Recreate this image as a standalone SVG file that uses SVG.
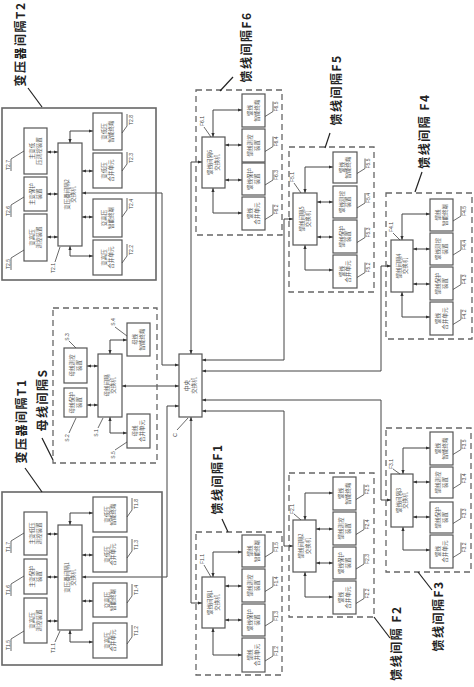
<svg xmlns="http://www.w3.org/2000/svg" width="474" height="687" viewBox="0 0 474 687">
<style>
.b{fill:#fff;stroke:#555;stroke-width:1.2}
.tb{fill:none;stroke:#666;stroke-width:1.6}
.d{fill:none;stroke:#666;stroke-width:1.3;stroke-dasharray:6 4}
.c{fill:none;stroke:#444;stroke-width:1;marker-start:url(#ah);marker-end:url(#ah)}
.l{fill:none;stroke:#444;stroke-width:0.8}
.ld{fill:none;stroke:#222;stroke-width:1.2}
.t{font-family:"Noto Sans CJK SC",sans-serif;font-size:5.5px;fill:#555;text-anchor:middle}
.n{font-family:"Liberation Sans",sans-serif;font-size:5px;fill:#444;text-anchor:middle}
.L{font-family:"Noto Sans CJK SC",sans-serif;font-size:12px;font-weight:bold;fill:#222;letter-spacing:1.5px;text-anchor:middle}
</style>
<defs>
<marker id="ah" viewBox="0 0 10 10" refX="10" refY="5" markerWidth="4" markerHeight="4" markerUnits="userSpaceOnUse" orient="auto-start-reverse"><path d="M0,1L10,5L0,9z" fill="#333"/></marker>
</defs>
<rect width="474" height="687" fill="#fff"/>

<g id="connectors">
<path class="c" d="M179,365H162V193H82"/>
<path class="c" d="M179,386H122"/>
<path class="c" d="M179,406H167V577H82"/>
<path class="c" d="M191,354V162H202"/>
<path class="c" d="M191,417V603H202"/>
<path class="c" d="M202,360H284V219H293"/>
<path class="c" d="M202,371H381V266H391"/>
<path class="c" d="M202,400H381V500H391"/>
<path class="c" d="M202,411H284V546H293"/>
<!-- T2 -->
<path class="c" d="M47,152H58"/><path class="c" d="M47,194H58"/><path class="c" d="M47,237H58"/>
<path class="c" d="M82,171H93"/><path class="c" d="M82,217H93"/>
<path class="c" d="M70,143V131H93"/><path class="c" d="M70,246V256H93"/>
<!-- T1 -->
<path class="c" d="M47,534H58"/><path class="c" d="M47,577H58"/><path class="c" d="M47,621H58"/>
<path class="c" d="M82,555H93"/><path class="c" d="M82,601H93"/>
<path class="c" d="M70,525V513H93"/><path class="c" d="M70,630V642H93"/>
<!-- S -->
<path class="c" d="M87,366H98"/><path class="c" d="M87,405H98"/>
<path class="c" d="M110,354V340H127"/><path class="c" d="M110,417V433H127"/>
<!-- F6 -->
<path class="c" d="M225,145H242"/><path class="c" d="M225,180H242"/>
<path class="c" d="M213,137V110H242"/><path class="c" d="M213,188V213H242"/>
<!-- F5 -->
<path class="c" d="M317,202H333"/><path class="c" d="M317,237H333"/>
<path class="c" d="M305,193V167H333"/><path class="c" d="M305,245V270H333"/>
<!-- F4 -->
<path class="c" d="M413,249H430"/><path class="c" d="M413,284H430"/>
<path class="c" d="M402,240V214H430"/><path class="c" d="M402,292V317H430"/>
<!-- F1 -->
<path class="c" d="M225,586H242"/><path class="c" d="M225,620H242"/>
<path class="c" d="M213,577V552H242"/><path class="c" d="M213,628V655H242"/>
<!-- F2 -->
<path class="c" d="M316,529H333"/><path class="c" d="M316,563H333"/>
<path class="c" d="M305,520V493H333"/><path class="c" d="M305,572V597H333"/>
<!-- F3 -->
<path class="c" d="M413,482H430"/><path class="c" d="M413,517H430"/>
<path class="c" d="M403,474V448H430"/><path class="c" d="M403,527V550H430"/>
</g>

<!-- ===== T2 ===== -->
<g id="bay-T2">
<rect class="tb" x="2" y="108" width="154" height="172"/>
<text class="L" transform="translate(21 44) rotate(-90)" y="4">变压器间隔T2</text>
<path class="ld" d="M28,88L42,107"/>
</g>
<g id="T2.7"><rect class="b" x="24" y="128" width="23" height="46"/><text class="t" transform="translate(35.5 151) rotate(-90)"><tspan x="0" y="-1.4">主变低</tspan><tspan x="0" y="5.2">压测控装置</tspan></text><text class="n" transform="translate(8 165) rotate(-90)" y="1.7">T2.7</text><path class="l" d="M11,171V159L24,151"/></g>
<g id="T2.6"><rect class="b" x="24" y="177" width="23" height="34"/><text class="t" transform="translate(35.5 194) rotate(-90)"><tspan x="0" y="-1.4">主变保护</tspan><tspan x="0" y="5.2">装置</tspan></text><text class="n" transform="translate(8 211) rotate(-90)" y="1.7">T2.6</text><path class="l" d="M11,217V205L24,197"/></g>
<g id="T2.5"><rect class="b" x="24" y="214" width="23" height="47"/><text class="t" transform="translate(35.5 237.5) rotate(-90)"><tspan x="0" y="-1.4">变高压</tspan><tspan x="0" y="5.2">测控装置</tspan></text><text class="n" transform="translate(8 264) rotate(-90)" y="1.7">T2.5</text><path class="l" d="M11,270V258L24,250"/></g>
<g id="T2.1"><rect class="b" x="58" y="143" width="24" height="103"/><text class="t" transform="translate(70 194.5) rotate(-90)"><tspan x="0" y="-1.4">变压器间隔2</tspan><tspan x="0" y="5.2">交换机</tspan></text><text class="n" transform="translate(53 268) rotate(-90)" y="1.7">T2.1</text><path class="l" d="M55,262L60,247"/></g>
<g id="T2.8"><rect class="b" x="93" y="113" width="29" height="37"/><text class="t" transform="translate(107.5 131.5) rotate(-90)"><tspan x="0" y="-1.4">变低压</tspan><tspan x="0" y="5.2">智能终端</tspan></text><text class="n" transform="translate(131 120) rotate(-90)" y="1.7">T2.8</text><path class="l" d="M122,133L127,126V114"/></g>
<g id="T2.3"><rect class="b" x="93" y="153" width="29" height="35"/><text class="t" transform="translate(107.5 170.5) rotate(-90)"><tspan x="0" y="-1.4">变低压</tspan><tspan x="0" y="5.2">合并单元</tspan></text><text class="n" transform="translate(131 158) rotate(-90)" y="1.7">T2.3</text><path class="l" d="M122,171L127,164V152"/></g>
<g id="T2.4"><rect class="b" x="93" y="199" width="29" height="38"/><text class="t" transform="translate(107.5 218) rotate(-90)"><tspan x="0" y="-1.4">变高压</tspan><tspan x="0" y="5.2">智能终端</tspan></text><text class="n" transform="translate(131 204) rotate(-90)" y="1.7">T2.4</text><path class="l" d="M122,217L127,210V198"/></g>
<g id="T2.2"><rect class="b" x="93" y="240" width="29" height="35"/><text class="t" transform="translate(107.5 257.5) rotate(-90)"><tspan x="0" y="-1.4">变高压</tspan><tspan x="0" y="5.2">合并单元</tspan></text><text class="n" transform="translate(131 250) rotate(-90)" y="1.7">T2.2</text><path class="l" d="M122,263L127,256V244"/></g>

<!-- ===== T1 ===== -->
<g id="bay-T1">
<rect class="tb" x="2" y="492" width="160" height="173"/>
<text class="L" transform="translate(22 421) rotate(-90)" y="4">变压器间隔T1</text>
<path class="ld" d="M25,468L42,492"/>
</g>
<g id="T1.7"><rect class="b" x="24" y="512" width="23" height="43"/><text class="t" transform="translate(35.5 533.5) rotate(-90)"><tspan x="0" y="-1.4">主变低压</tspan><tspan x="0" y="5.2">测控装置</tspan></text><text class="n" transform="translate(8 547) rotate(-90)" y="1.7">T1.7</text><path class="l" d="M11,553V541L24,533"/></g>
<g id="T1.6"><rect class="b" x="24" y="559" width="23" height="35"/><text class="t" transform="translate(35.5 576.5) rotate(-90)"><tspan x="0" y="-1.4">主变保护</tspan><tspan x="0" y="5.2">装置</tspan></text><text class="n" transform="translate(8 590) rotate(-90)" y="1.7">T1.6</text><path class="l" d="M11,596V584L24,576"/></g>
<g id="T1.5"><rect class="b" x="24" y="598" width="23" height="45"/><text class="t" transform="translate(35.5 620.5) rotate(-90)"><tspan x="0" y="-1.4">变高压</tspan><tspan x="0" y="5.2">测控装置</tspan></text><text class="n" transform="translate(8 645) rotate(-90)" y="1.7">T1.5</text><path class="l" d="M11,651V639L24,631"/></g>
<g id="T1.1"><rect class="b" x="58" y="525" width="24" height="105"/><text class="t" transform="translate(70 577.5) rotate(-90)"><tspan x="0" y="-1.4">变压器间隔1</tspan><tspan x="0" y="5.2">交换机</tspan></text><text class="n" transform="translate(53 648) rotate(-90)" y="1.7">T1.1</text><path class="l" d="M55,642L60,631"/></g>
<g id="T1.8"><rect class="b" x="93" y="497" width="34" height="35"/><text class="t" transform="translate(110 514.5) rotate(-90)"><tspan x="0" y="-1.4">变低压</tspan><tspan x="0" y="5.2">智能终端</tspan></text><text class="n" transform="translate(136 504) rotate(-90)" y="1.7">T1.8</text><path class="l" d="M127,517L132,510V498"/></g>
<g id="T1.3"><rect class="b" x="93" y="537" width="34" height="35"/><text class="t" transform="translate(110 554.5) rotate(-90)"><tspan x="0" y="-1.4">变低压</tspan><tspan x="0" y="5.2">合并单元</tspan></text><text class="n" transform="translate(136 545) rotate(-90)" y="1.7">T1.3</text><path class="l" d="M127,558L132,551V539"/></g>
<g id="T1.4"><rect class="b" x="93" y="583" width="34" height="34"/><text class="t" transform="translate(110 600) rotate(-90)"><tspan x="0" y="-1.4">变高压</tspan><tspan x="0" y="5.2">智能终端</tspan></text><text class="n" transform="translate(136 590) rotate(-90)" y="1.7">T1.4</text><path class="l" d="M127,603L132,596V584"/></g>
<g id="T1.2"><rect class="b" x="93" y="623" width="34" height="35"/><text class="t" transform="translate(110 640.5) rotate(-90)"><tspan x="0" y="-1.4">变高压</tspan><tspan x="0" y="5.2">合并单元</tspan></text><text class="n" transform="translate(136 631) rotate(-90)" y="1.7">T1.2</text><path class="l" d="M127,644L132,637V625"/></g>

<!-- ===== Bus S ===== -->
<g id="bay-S">
<rect class="d" x="53" y="308" width="104" height="155"/>
<text class="L" transform="translate(43 400) rotate(-90)" y="4">母线间隔S</text>
<path class="ld" d="M42,438L53,460"/>
</g>
<g id="S.1"><rect class="b" x="98" y="354" width="24" height="63"/><text class="t" transform="translate(110 385.5) rotate(-90)"><tspan x="0" y="-1.4">母线间隔</tspan><tspan x="0" y="5.2">交换机</tspan></text><text class="n" transform="translate(96 433) rotate(-90)" y="1.7">S.1</text><path class="l" d="M98,428L103,418"/></g>
<g id="S.3"><rect class="b" x="64" y="348" width="23" height="35"/><text class="t" transform="translate(75.5 365.5) rotate(-90)"><tspan x="0" y="-1.4">母线测控</tspan><tspan x="0" y="5.2">装置</tspan></text><text class="n" transform="translate(67 337) rotate(-90)" y="1.7">S.3</text><path class="l" d="M69,341L76,348"/></g>
<g id="S.2"><rect class="b" x="64" y="388" width="23" height="29"/><text class="t" transform="translate(75.5 402.5) rotate(-90)"><tspan x="0" y="-1.4">母线保护</tspan><tspan x="0" y="5.2">装置</tspan></text><text class="n" transform="translate(67 438) rotate(-90)" y="1.7">S.2</text><path class="l" d="M69,433L76,418"/></g>
<g id="S.4"><rect class="b" x="127" y="323" width="23" height="33"/><text class="t" transform="translate(138.5 339.5) rotate(-90)"><tspan x="0" y="-1.4">母线</tspan><tspan x="0" y="5.2">智能终端</tspan></text><text class="n" transform="translate(113 322) rotate(-90)" y="1.7">S.4</text><path class="l" d="M115,327L127,336"/></g>
<g id="S.5"><rect class="b" x="127" y="414" width="23" height="34"/><text class="t" transform="translate(138.5 431) rotate(-90)"><tspan x="0" y="-1.4">母线</tspan><tspan x="0" y="5.2">合并单元</tspan></text><text class="n" transform="translate(113 455) rotate(-90)" y="1.7">S.5</text><path class="l" d="M115,450L127,442"/></g>

<!-- ===== Central ===== -->
<g id="C"><rect class="b" x="179" y="354" width="23" height="63"/><text class="t" transform="translate(190.5 385.5) rotate(-90)"><tspan x="0" y="-1.4">中央</tspan><tspan x="0" y="5.2">交换机</tspan></text><text class="n" transform="translate(175 435) rotate(-90)" y="1.7" style="font-size:5.5px">C</text><path class="l" d="M177,430L188,418"/></g>

<!-- ===== F6 ===== -->
<g id="bay-F6"><rect class="d" x="196" y="90" width="86" height="145"/><text class="L" transform="translate(247 47) rotate(-90)" y="4">馈线间隔F6</text><path class="ld" d="M233,77L220,91"/></g>
<g id="F6.1"><rect class="b" x="202" y="137" width="23" height="51"/><text class="t" transform="translate(213.5 162.5) rotate(-90)"><tspan x="0" y="-1.4">馈线间隔6</tspan><tspan x="0" y="5.2">交换机</tspan></text><text class="n" transform="translate(202 121) rotate(-90)" y="1.7">F6.1</text><path class="l" d="M204,127L211,137"/></g>
<g id="F6.5"><rect class="b" x="242" y="94" width="23" height="33"/><text class="t" transform="translate(253.5 110.5) rotate(-90)"><tspan x="0" y="-1.4">馈线</tspan><tspan x="0" y="5.2">智能终端</tspan></text><text class="n" transform="translate(276 106.5) rotate(-90)" y="1.7">F6.5</text><path class="l" d="M265,116.5L273,111.5V101.5"/></g>
<g id="F6.4"><rect class="b" x="242" y="129" width="23" height="33"/><text class="t" transform="translate(253.5 145.5) rotate(-90)"><tspan x="0" y="-1.4">馈线测控</tspan><tspan x="0" y="5.2">装置</tspan></text><text class="n" transform="translate(276 141.5) rotate(-90)" y="1.7">F6.4</text><path class="l" d="M265,151.5L273,146.5V136.5"/></g>
<g id="F6.3"><rect class="b" x="242" y="163" width="23" height="32"/><text class="t" transform="translate(253.5 179) rotate(-90)"><tspan x="0" y="-1.4">馈线保护</tspan><tspan x="0" y="5.2">装置</tspan></text><text class="n" transform="translate(276 175) rotate(-90)" y="1.7">F6.3</text><path class="l" d="M265,185L273,180V170"/></g>
<g id="F6.2"><rect class="b" x="242" y="197" width="23" height="33"/><text class="t" transform="translate(253.5 213.5) rotate(-90)"><tspan x="0" y="-1.4">馈线</tspan><tspan x="0" y="5.2">合并单元</tspan></text><text class="n" transform="translate(276 209.5) rotate(-90)" y="1.7">F6.2</text><path class="l" d="M265,219.5L273,214.5V204.5"/></g>

<!-- ===== F5 ===== -->
<g id="bay-F5"><rect class="d" x="289" y="147" width="85" height="145"/><text class="L" transform="translate(337 90) rotate(-90)" y="4">馈线间隔F5</text><path class="ld" d="M330,133L325,148"/></g>
<g id="F5.1"><rect class="b" x="293" y="193" width="24" height="52"/><text class="t" transform="translate(305 219) rotate(-90)"><tspan x="0" y="-1.4">馈线间隔5</tspan><tspan x="0" y="5.2">交换机</tspan></text><text class="n" transform="translate(292 177) rotate(-90)" y="1.7">F5.1</text><path class="l" d="M294,183L301,193"/></g>
<g id="F5.5"><rect class="b" x="333" y="152" width="24" height="31"/><text class="t" transform="translate(345 167.5) rotate(-90)"><tspan x="0" y="-1.4">馈线</tspan><tspan x="0" y="5.2">智能终端</tspan></text><text class="n" transform="translate(368 163.5) rotate(-90)" y="1.7">F5.5</text><path class="l" d="M357,173.5L365,168.5V158.5"/></g>
<g id="F5.4"><rect class="b" x="333" y="186" width="24" height="32"/><text class="t" transform="translate(345 202) rotate(-90)"><tspan x="0" y="-1.4">馈线测控</tspan><tspan x="0" y="5.2">装置</tspan></text><text class="n" transform="translate(368 198) rotate(-90)" y="1.7">F5.4</text><path class="l" d="M357,208L365,203V193"/></g>
<g id="F5.3"><rect class="b" x="333" y="220" width="24" height="33"/><text class="t" transform="translate(345 236.5) rotate(-90)"><tspan x="0" y="-1.4">馈线保护</tspan><tspan x="0" y="5.2">装置</tspan></text><text class="n" transform="translate(368 232.5) rotate(-90)" y="1.7">F5.3</text><path class="l" d="M357,242.5L365,237.5V227.5"/></g>
<g id="F5.2"><rect class="b" x="333" y="255" width="24" height="33"/><text class="t" transform="translate(345 271.5) rotate(-90)"><tspan x="0" y="-1.4">馈线</tspan><tspan x="0" y="5.2">合并单元</tspan></text><text class="n" transform="translate(368 267.5) rotate(-90)" y="1.7">F5.2</text><path class="l" d="M357,277.5L365,272.5V262.5"/></g>

<!-- ===== F4 ===== -->
<g id="bay-F4"><rect class="d" x="386" y="193" width="86" height="146"/><text class="L" transform="translate(425 131) rotate(-90)" y="4">馈线间隔 F4</text><path class="ld" d="M422,172L415,192"/></g>
<g id="F4.1"><rect class="b" x="391" y="240" width="22" height="52"/><text class="t" transform="translate(402 266) rotate(-90)"><tspan x="0" y="-1.4">馈线间隔4</tspan><tspan x="0" y="5.2">交换机</tspan></text><text class="n" transform="translate(391 227) rotate(-90)" y="1.7">F4.1</text><path class="l" d="M393,233L400,240"/></g>
<g id="F4.5"><rect class="b" x="430" y="199" width="23" height="32"/><text class="t" transform="translate(441.5 215) rotate(-90)"><tspan x="0" y="-1.4">馈线</tspan><tspan x="0" y="5.2">智能终端</tspan></text><text class="n" transform="translate(464 211) rotate(-90)" y="1.7">F4.5</text><path class="l" d="M453,221L461,216V206"/></g>
<g id="F4.4"><rect class="b" x="430" y="233" width="23" height="32"/><text class="t" transform="translate(441.5 249) rotate(-90)"><tspan x="0" y="-1.4">馈线测控</tspan><tspan x="0" y="5.2">装置</tspan></text><text class="n" transform="translate(464 245) rotate(-90)" y="1.7">F4.4</text><path class="l" d="M453,255L461,250V240"/></g>
<g id="F4.3"><rect class="b" x="430" y="267" width="23" height="33"/><text class="t" transform="translate(441.5 283.5) rotate(-90)"><tspan x="0" y="-1.4">馈线保护</tspan><tspan x="0" y="5.2">装置</tspan></text><text class="n" transform="translate(464 279.5) rotate(-90)" y="1.7">F4.3</text><path class="l" d="M453,289.5L461,284.5V274.5"/></g>
<g id="F4.2"><rect class="b" x="430" y="302" width="23" height="33"/><text class="t" transform="translate(441.5 318.5) rotate(-90)"><tspan x="0" y="-1.4">馈线</tspan><tspan x="0" y="5.2">合并单元</tspan></text><text class="n" transform="translate(464 314.5) rotate(-90)" y="1.7">F4.2</text><path class="l" d="M453,324.5L461,319.5V309.5"/></g>

<!-- ===== F1 ===== -->
<g id="bay-F1"><rect class="d" x="196" y="532" width="86" height="143"/><text class="L" transform="translate(218 479) rotate(-90)" y="4">馈线间隔F1</text><path class="ld" d="M222,519L228,532"/></g>
<g id="F1.1"><rect class="b" x="202" y="577" width="23" height="51"/><text class="t" transform="translate(213.5 602.5) rotate(-90)"><tspan x="0" y="-1.4">馈线间隔1</tspan><tspan x="0" y="5.2">交换机</tspan></text><text class="n" transform="translate(202 559) rotate(-90)" y="1.7">F1.1</text><path class="l" d="M204,565L211,577"/></g>
<g id="F1.5"><rect class="b" x="242" y="535" width="23" height="32"/><text class="t" transform="translate(253.5 551) rotate(-90)"><tspan x="0" y="-1.4">馈线</tspan><tspan x="0" y="5.2">智能终端</tspan></text><text class="n" transform="translate(276 547) rotate(-90)" y="1.7">F1.5</text><path class="l" d="M265,557L273,552V542"/></g>
<g id="F1.4"><rect class="b" x="242" y="569" width="23" height="33"/><text class="t" transform="translate(253.5 585.5) rotate(-90)"><tspan x="0" y="-1.4">馈线测控</tspan><tspan x="0" y="5.2">装置</tspan></text><text class="n" transform="translate(276 581.5) rotate(-90)" y="1.7">F1.4</text><path class="l" d="M265,591.5L273,586.5V576.5"/></g>
<g id="F1.3"><rect class="b" x="242" y="604" width="23" height="32"/><text class="t" transform="translate(253.5 620) rotate(-90)"><tspan x="0" y="-1.4">馈线保护</tspan><tspan x="0" y="5.2">装置</tspan></text><text class="n" transform="translate(276 616) rotate(-90)" y="1.7">F1.3</text><path class="l" d="M265,626L273,621V611"/></g>
<g id="F1.2"><rect class="b" x="242" y="638" width="23" height="34"/><text class="t" transform="translate(253.5 655) rotate(-90)"><tspan x="0" y="-1.4">馈线</tspan><tspan x="0" y="5.2">合并单元</tspan></text><text class="n" transform="translate(276 651) rotate(-90)" y="1.7">F1.2</text><path class="l" d="M265,661L273,656V646"/></g>

<!-- ===== F2 ===== -->
<g id="bay-F2"><rect class="d" x="289" y="473" width="85" height="144"/><text class="L" transform="translate(397 643) rotate(-90)" y="4">馈线间隔 F2</text><path class="ld" d="M374,617L390,638"/></g>
<g id="F2.1"><rect class="b" x="293" y="520" width="23" height="52"/><text class="t" transform="translate(304.5 546) rotate(-90)"><tspan x="0" y="-1.4">馈线间隔2</tspan><tspan x="0" y="5.2">交换机</tspan></text><text class="n" transform="translate(292 509) rotate(-90)" y="1.7">F2.1</text><path class="l" d="M294,514L301,520"/></g>
<g id="F2.5"><rect class="b" x="333" y="477" width="23" height="33"/><text class="t" transform="translate(344.5 493.5) rotate(-90)"><tspan x="0" y="-1.4">馈线</tspan><tspan x="0" y="5.2">智能终端</tspan></text><text class="n" transform="translate(367 489.5) rotate(-90)" y="1.7">F2.5</text><path class="l" d="M356,499.5L364,494.5V484.5"/></g>
<g id="F2.4"><rect class="b" x="333" y="512" width="23" height="33"/><text class="t" transform="translate(344.5 528.5) rotate(-90)"><tspan x="0" y="-1.4">馈线测控</tspan><tspan x="0" y="5.2">装置</tspan></text><text class="n" transform="translate(367 524.5) rotate(-90)" y="1.7">F2.4</text><path class="l" d="M356,534.5L364,529.5V519.5"/></g>
<g id="F2.3"><rect class="b" x="333" y="547" width="23" height="32"/><text class="t" transform="translate(344.5 563) rotate(-90)"><tspan x="0" y="-1.4">馈线保护</tspan><tspan x="0" y="5.2">装置</tspan></text><text class="n" transform="translate(367 559) rotate(-90)" y="1.7">F2.3</text><path class="l" d="M356,569L364,564V554"/></g>
<g id="F2.2"><rect class="b" x="333" y="581" width="23" height="33"/><text class="t" transform="translate(344.5 597.5) rotate(-90)"><tspan x="0" y="-1.4">馈线</tspan><tspan x="0" y="5.2">合并单元</tspan></text><text class="n" transform="translate(367 593.5) rotate(-90)" y="1.7">F2.2</text><path class="l" d="M356,603.5L364,598.5V588.5"/></g>

<!-- ===== F3 ===== -->
<g id="bay-F3"><rect class="d" x="386" y="428" width="85" height="144"/><text class="L" transform="translate(439 616) rotate(-90)" y="4">馈线间隔F3</text><path class="ld" d="M418,572L432,590"/></g>
<g id="F3.1"><rect class="b" x="391" y="474" width="22" height="53"/><text class="t" transform="translate(402 500.5) rotate(-90)"><tspan x="0" y="-1.4">馈线间隔3</tspan><tspan x="0" y="5.2">交换机</tspan></text><text class="n" transform="translate(391 464) rotate(-90)" y="1.7">F3.1</text><path class="l" d="M393,469L400,474"/></g>
<g id="F3.5"><rect class="b" x="430" y="432" width="23" height="33"/><text class="t" transform="translate(441.5 448.5) rotate(-90)"><tspan x="0" y="-1.4">馈线</tspan><tspan x="0" y="5.2">智能终端</tspan></text><text class="n" transform="translate(464 444.5) rotate(-90)" y="1.7">F3.5</text><path class="l" d="M453,454.5L461,449.5V439.5"/></g>
<g id="F3.4"><rect class="b" x="430" y="467" width="23" height="31"/><text class="t" transform="translate(441.5 482.5) rotate(-90)"><tspan x="0" y="-1.4">馈线测控</tspan><tspan x="0" y="5.2">装置</tspan></text><text class="n" transform="translate(464 478.5) rotate(-90)" y="1.7">F3.4</text><path class="l" d="M453,488.5L461,483.5V473.5"/></g>
<g id="F3.3"><rect class="b" x="430" y="502" width="23" height="31"/><text class="t" transform="translate(441.5 517.5) rotate(-90)"><tspan x="0" y="-1.4">馈线保护</tspan><tspan x="0" y="5.2">装置</tspan></text><text class="n" transform="translate(464 513.5) rotate(-90)" y="1.7">F3.3</text><path class="l" d="M453,523.5L461,518.5V508.5"/></g>
<g id="F3.2"><rect class="b" x="430" y="535" width="23" height="33"/><text class="t" transform="translate(441.5 551.5) rotate(-90)"><tspan x="0" y="-1.4">馈线</tspan><tspan x="0" y="5.2">合并单元</tspan></text><text class="n" transform="translate(464 547.5) rotate(-90)" y="1.7">F3.2</text><path class="l" d="M453,557.5L461,552.5V542.5"/></g>
</svg>
